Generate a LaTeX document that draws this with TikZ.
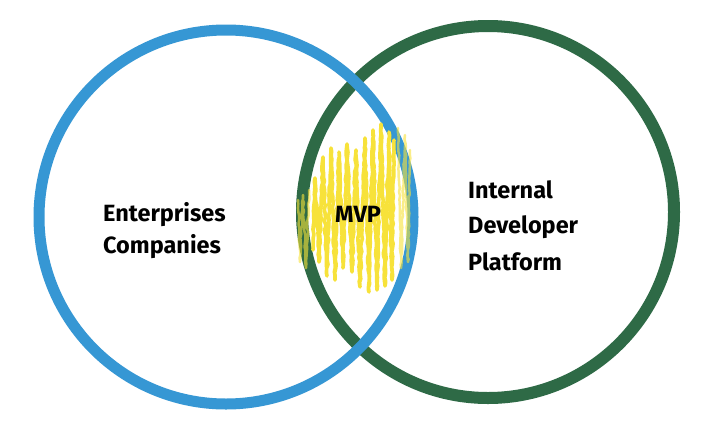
\documentclass[tikz,border=0pt]{standalone}
\usepackage{fontspec}
\usetikzlibrary{decorations.pathmorphing}
\setmainfont{Fira Sans}
\definecolor{vblue}{RGB}{54,151,212}
\definecolor{vgreen}{RGB}{46,106,70}
\definecolor{vyellow}{RGB}{247,226,58}
\begin{document}
\begin{tikzpicture}[x=1pt,y=-1pt,
  lbl/.style={anchor=base west,inner sep=0pt,font=\fontsize{23.5}{23.5}\selectfont\bfseries},
  scrib/.style={draw=vyellow,line width=3.6pt,line cap=round,line join=round,
    decorate,decoration={random steps,segment length=4pt,amplitude=0.7pt}}]
\pgfmathsetseed{7}
\useasboundingbox[fill=white] (0,0) rectangle (711,426);
% circles (green below, blue above)
\draw[vgreen,line width=12pt] (488,212) circle[radius=186];
\draw[vblue,line width=11pt] (226,217) circle[radius=187];
% yellow scribble
\draw[scrib,opacity=0.6,line width=2.5pt] (298,200) -- (300,262) -- (303,195) -- (306,268) -- (309,190);
\draw[scrib] (313,250) -- (315,178) -- (319,262) -- (323,157) -- (327,276) -- (331,148)
  -- (335,280) -- (339,152) -- (343,268) -- (347,144) -- (352,272) -- (356,150)
  -- (360,287) -- (365,138) -- (369,292) -- (373,130) -- (377,290) -- (381,124)
  -- (385,286) -- (389,132) -- (392,280) -- (394,140);
\draw[scrib,opacity=0.6,line width=2.5pt] (398,128) -- (401,268) -- (405,135) -- (408,262) -- (410,150);
% labels
\node[lbl] (ent) at (103,221) {Enterprises};
\node[lbl] (com) at (103,253) {Companies};
\node[lbl] (mvp) at (335,222) {MVP};
\node[lbl] (int) at (468,198) {Internal};
\node[lbl] (dev) at (468,233) {Developer};
\node[lbl] (pla) at (468,270) {Platform};
\end{tikzpicture}
\end{document}
